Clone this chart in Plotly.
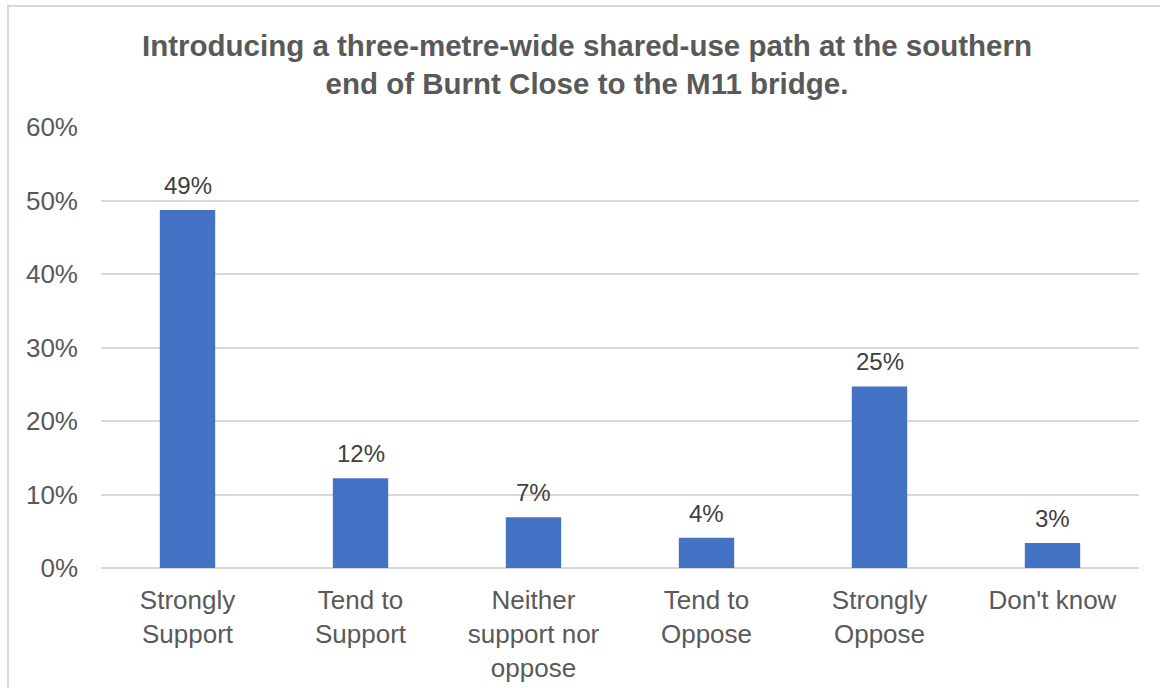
import plotly.graph_objects as go

# Survey responses for the proposed shared-use path
categories = [
    "Strongly<br>Support",
    "Tend to<br>Support",
    "Neither<br>support nor<br>oppose",
    "Tend to<br>Oppose",
    "Strongly<br>Oppose",
    "Don't know",
]
shares = [0.487, 0.122, 0.069, 0.041, 0.247, 0.034]
y_ticks = [0, 0.1, 0.2, 0.3, 0.4, 0.5, 0.6]
y_tick_labels = ["0%", "10%", "20%", "30%", "40%", "50%", "60%"]

title_text = ("Introducing a three-metre-wide shared-use path at the southern<br>"
              "end of Burnt Close to the M11 bridge.")

W, H = 1160, 688
ML, MR, MT, MB = 101, 21, 127, 120
FONT = "Liberation Sans, Arial, sans-serif"
GREY = "#595959"
GRID = "#D9D9D9"

fig = go.Figure(
    go.Bar(
        x=categories,
        y=shares,
        marker=dict(color="#4472C4", line=dict(width=0)),
        width=0.32,
        hoverinfo="skip",
    )
)

# value labels above each bar
for cat, v in zip(categories, shares):
    fig.add_annotation(
        x=cat, y=v, text=f"{round(v * 100)}%",
        showarrow=False, yanchor="bottom", yshift=9,
        font=dict(family=FONT, size=24, color="#404040"),
    )

# thin outer frame of the chart area
pw = W - ML - MR
ph = H - MT - MB
fig.add_shape(
    type="rect", xref="paper", yref="paper",
    x0=(8 - ML) / pw, x1=(W + 20 - ML) / pw,
    y0=-(MB + 20) / ph, y1=(H - MB - 6) / ph,
    line=dict(color=GRID, width=2), fillcolor="rgba(0,0,0,0)", layer="below",
)

fig.update_layout(
    width=W, height=H,
    margin=dict(l=ML, r=MR, t=MT, b=MB),
    paper_bgcolor="white", plot_bgcolor="white",
    showlegend=False,
    bargap=0.68,
    title=dict(
        text=title_text,
        font=dict(family=FONT, size=29.5, color=GREY, weight="bold"),
        xref="container", x=587 / W, xanchor="center",
        yref="container", y=1 - 56 / H, yanchor="top",
        automargin=False,
    ),
    font=dict(family=FONT, size=24, color=GREY),
)

fig.update_xaxes(
    showgrid=False, showline=False, ticks="",
    tickfont=dict(family=FONT, size=26, color=GREY),
    ticklabelstandoff=14, automargin=False,
)
fig.update_yaxes(
    range=[0, 0.6],
    tickvals=y_ticks, ticktext=y_tick_labels,
    showgrid=True, gridcolor=GRID, gridwidth=2,
    zeroline=True, zerolinecolor=GRID, zerolinewidth=2,
    showline=False, ticks="",
    tickfont=dict(family=FONT, size=26, color=GREY),
    ticklabelstandoff=22, automargin=False,
)

fig.write_html("out.html")
